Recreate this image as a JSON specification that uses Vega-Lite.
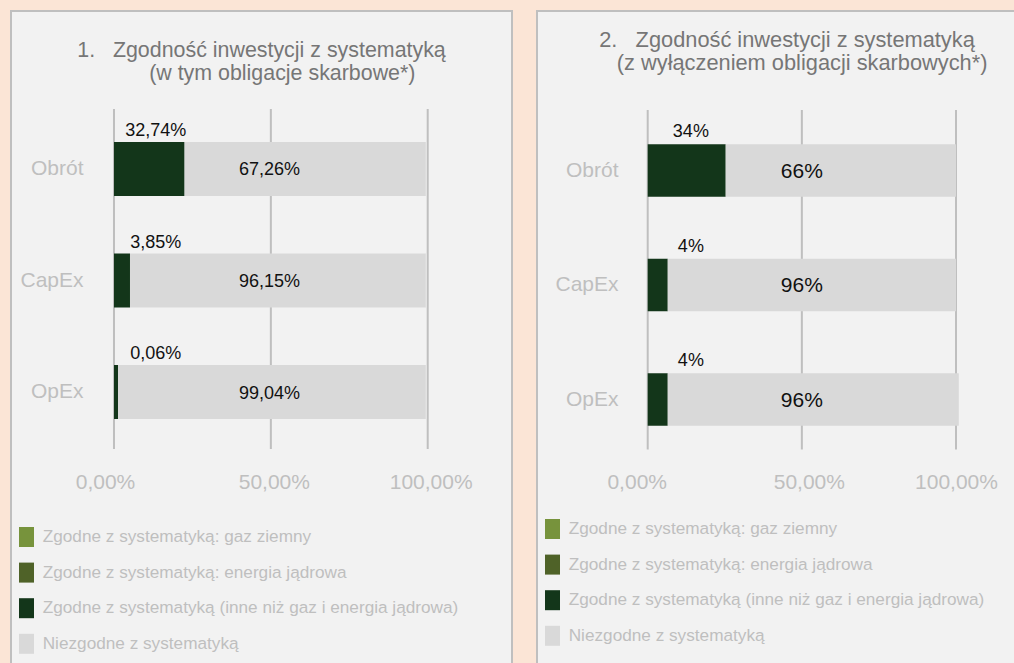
{
  "$schema": "https://vega.github.io/schema/vega-lite/v6.json",
  "background": "#FBE5D6",
  "padding": {"left": 10, "top": 10, "right": 0, "bottom": 0},
  "spacing": 23,
  "resolve": {"scale": {"color": "independent"}, "legend": {"color": "independent"}},
  "config": {
    "font": "Liberation Sans",
    "view": {"fill": "#F2F2F2", "stroke": "#BFBFBF", "strokeWidth": 2},
    "title": {"font": "Liberation Sans", "fontWeight": "normal", "fontSize": 21.4, "lineHeight": 23, "color": "#767676", "anchor": "middle"},
    "legend": {"labelFont": "Liberation Sans", "labelFontSize": 17.2, "labelColor": "#BFBFBF", "labelLimit": 0, "padding": 0, "rowPadding": 15.6, "labelOffset": 6.2, "symbolType": "M-0.75,-1H0.75V1H-0.75Z", "symbolSize": 400, "symbolStrokeWidth": 0, "symbolOpacity": 1, "title": null}
  },
  "datasets": {
    "grid": [{"g": 0}, {"g": 50}, {"g": 100}],
    "p1": [
      {"cat": "Obrót", "kat": "Zgodne z systematyką (inne niż gaz i energia jądrowa)", "val": 22.5, "lbl": "32,74%"},
      {"cat": "Obrót", "kat": "Niezgodne z systematyką", "val": 76.9, "lbl": "67,26%"},
      {"cat": "CapEx", "kat": "Zgodne z systematyką (inne niż gaz i energia jądrowa)", "val": 5.1, "lbl": "3,85%"},
      {"cat": "CapEx", "kat": "Niezgodne z systematyką", "val": 94.3, "lbl": "96,15%"},
      {"cat": "OpEx", "kat": "Zgodne z systematyką (inne niż gaz i energia jądrowa)", "val": 1.3, "lbl": "0,06%"},
      {"cat": "OpEx", "kat": "Niezgodne z systematyką", "val": 98.1, "lbl": "99,04%"}
    ],
    "p2": [
      {"cat": "Obrót", "kat": "Zgodne z systematyką (inne niż gaz i energia jądrowa)", "val": 25.3, "lbl": "34%"},
      {"cat": "Obrót", "kat": "Niezgodne z systematyką", "val": 74.7, "lbl": "66%"},
      {"cat": "CapEx", "kat": "Zgodne z systematyką (inne niż gaz i energia jądrowa)", "val": 6.5, "lbl": "4%"},
      {"cat": "CapEx", "kat": "Niezgodne z systematyką", "val": 93.5, "lbl": "96%"},
      {"cat": "OpEx", "kat": "Zgodne z systematyką (inne niż gaz i energia jądrowa)", "val": 6.5, "lbl": "4%"},
      {"cat": "OpEx", "kat": "Niezgodne z systematyką", "val": 94.4, "lbl": "96%"}
    ]
  },
  "hconcat": [
    {
      "width": 501,
      "height": 670,
      "title": {"text": ["1.\u00a0\u00a0\u00a0Zgodność inwestycji z systematyką", "\u200b\u00a0\u00a0\u00a0\u00a0\u00a0\u00a0\u00a0(w tym obligacje skarbowe*)"], "offset": -73},
      "layer": [
        {
          "data": {"name": "grid"},
          "mark": {"type": "rule", "color": "#BFBFBF", "strokeWidth": 2, "yOffset": -60, "y2Offset": 57},
          "encoding": {
            "x": {"field": "g", "type": "quantitative", "scale": {"domain": [-32.83, 126.87], "nice": false, "zero": false}},
            "y": {"datum": "Obrót", "type": "nominal", "scale": {"domain": ["Obrót", "CapEx", "OpEx"], "range": [131, 408], "paddingInner": 0.516, "paddingOuter": 0}},
            "y2": {"datum": "OpEx"}
          }
        },
        {
          "data": {"name": "p1"},
          "mark": {"type": "bar"},
          "encoding": {
            "x": {"field": "val", "type": "quantitative", "stack": "zero", "scale": {"domain": [-32.83, 126.87], "nice": false, "zero": false},
              "axis": {"values": [0, 50, 100], "labelExpr": "replace(format(datum.value, '.2f'), '.', ',') + '%'", "title": null, "domain": false, "ticks": false, "grid": false, "offset": -199, "labelPadding": 0, "labelBaseline": "middle", "labelFontSize": 21, "labelColor": "#BFBFBF", "labelFlush": false, "labelOverlap": false,
                "labelOffset": {"condition": {"test": "datum.value === 0", "value": -9}, "value": 3}}},
            "y": {"field": "cat", "type": "nominal", "scale": {"domain": ["Obrót", "CapEx", "OpEx"], "range": [131, 408], "paddingInner": 0.516, "paddingOuter": 0},
              "axis": {"title": null, "domain": false, "ticks": false, "grid": false, "labelPadding": 0, "offset": -72, "labelFontSize": 21, "labelColor": "#BFBFBF"}},
            "color": {"field": "kat", "type": "nominal",
              "scale": {"domain": ["Zgodne z systematyką: gaz ziemny", "Zgodne z systematyką: energia jądrowa", "Zgodne z systematyką (inne niż gaz i energia jądrowa)", "Niezgodne z systematyką"], "range": ["#77933C", "#4F6228", "#13361A", "#D9D9D9"]},
              "legend": {"orient": "none", "legendX": 5.5, "legendY": 516, "direction": "vertical"}},
            "order": {"field": "kat", "sort": "descending"}
          }
        },
        {
          "data": {"name": "p1"},
          "transform": [{"filter": "datum.kat !== 'Niezgodne z systematyką'"}],
          "mark": {"type": "text", "fontSize": 18, "color": "#111111", "yOffset": -38},
          "encoding": {
            "x": {"datum": 13.3, "type": "quantitative", "scale": {"domain": [-32.83, 126.87], "nice": false, "zero": false}},
            "y": {"field": "cat", "type": "nominal", "scale": {"domain": ["Obrót", "CapEx", "OpEx"], "range": [131, 408], "paddingInner": 0.516, "paddingOuter": 0}},
            "text": {"field": "lbl"}
          }
        },
        {
          "data": {"name": "p1"},
          "transform": [{"filter": "datum.kat === 'Niezgodne z systematyką'"}],
          "mark": {"type": "text", "fontSize": 18, "color": "#111111", "yOffset": 1.5},
          "encoding": {
            "x": {"datum": 49.6, "type": "quantitative", "scale": {"domain": [-32.83, 126.87], "nice": false, "zero": false}},
            "y": {"field": "cat", "type": "nominal", "scale": {"domain": ["Obrót", "CapEx", "OpEx"], "range": [131, 408], "paddingInner": 0.516, "paddingOuter": 0}},
            "text": {"field": "lbl"}
          }
        }
      ]
    },
    {
      "width": 500,
      "height": 670,
      "title": {"text": ["2.\u00a0\u00a0\u00a0Zgodność inwestycji z systematyką", "\u200b\u00a0\u00a0\u00a0\u00a0\u00a0(z wyłączeniem obligacji skarbowych*)"], "offset": -63.5, "fontSize": 21.8},
      "layer": [
        {
          "data": {"name": "grid"},
          "mark": {"type": "rule", "color": "#BFBFBF", "strokeWidth": 2, "yOffset": -60.5, "y2Offset": 50},
          "encoding": {
            "x": {"field": "g", "type": "quantitative", "scale": {"domain": [-35.91, 126.27], "nice": false, "zero": false}},
            "y": {"datum": "Obrót", "type": "nominal", "scale": {"domain": ["Obrót", "CapEx", "OpEx"], "range": [133.3, 414.8], "paddingInner": 0.5415, "paddingOuter": 0}},
            "y2": {"datum": "OpEx"}
          }
        },
        {
          "data": {"name": "p2"},
          "mark": {"type": "bar"},
          "encoding": {
            "x": {"field": "val", "type": "quantitative", "stack": "zero", "scale": {"domain": [-35.91, 126.27], "nice": false, "zero": false},
              "axis": {"values": [0, 50, 100], "labelExpr": "replace(format(datum.value, '.2f'), '.', ',') + '%'", "title": null, "domain": false, "ticks": false, "grid": false, "offset": -199, "labelPadding": 0, "labelBaseline": "middle", "labelFontSize": 21, "labelColor": "#BFBFBF", "labelFlush": false, "labelOverlap": false,
                "labelOffset": {"condition": [{"test": "datum.value === 0", "value": -11}, {"test": "datum.value === 50", "value": 7}], "value": 0}}},
            "y": {"field": "cat", "type": "nominal", "scale": {"domain": ["Obrót", "CapEx", "OpEx"], "range": [133.3, 414.8], "paddingInner": 0.5415, "paddingOuter": 0},
              "axis": {"title": null, "domain": false, "ticks": false, "grid": false, "labelPadding": 0, "offset": -81, "labelFontSize": 21, "labelColor": "#BFBFBF"}},
            "color": {"field": "kat", "type": "nominal",
              "scale": {"domain": ["Zgodne z systematyką: gaz ziemny", "Zgodne z systematyką: energia jądrowa", "Zgodne z systematyką (inne niż gaz i energia jądrowa)", "Niezgodne z systematyką"], "range": ["#77933C", "#4F6228", "#13361A", "#D9D9D9"]},
              "legend": {"orient": "none", "legendX": 5.5, "legendY": 508, "direction": "vertical"}},
            "order": {"field": "kat", "sort": "descending"}
          }
        },
        {
          "data": {"name": "p2"},
          "transform": [{"filter": "datum.kat !== 'Niezgodne z systematyką'"}],
          "mark": {"type": "text", "fontSize": 18, "color": "#111111", "yOffset": -38.5},
          "encoding": {
            "x": {"datum": 14, "type": "quantitative", "scale": {"domain": [-35.91, 126.27], "nice": false, "zero": false}},
            "y": {"field": "cat", "type": "nominal", "scale": {"domain": ["Obrót", "CapEx", "OpEx"], "range": [133.3, 414.8], "paddingInner": 0.5415, "paddingOuter": 0}},
            "text": {"field": "lbl"}
          }
        },
        {
          "data": {"name": "p2"},
          "transform": [{"filter": "datum.kat === 'Niezgodne z systematyką'"}],
          "mark": {"type": "text", "fontSize": 21, "color": "#111111", "yOffset": 1},
          "encoding": {
            "x": {"datum": 50, "type": "quantitative", "scale": {"domain": [-35.91, 126.27], "nice": false, "zero": false}},
            "y": {"field": "cat", "type": "nominal", "scale": {"domain": ["Obrót", "CapEx", "OpEx"], "range": [133.3, 414.8], "paddingInner": 0.5415, "paddingOuter": 0}},
            "text": {"field": "lbl"}
          }
        }
      ]
    }
  ]
}
